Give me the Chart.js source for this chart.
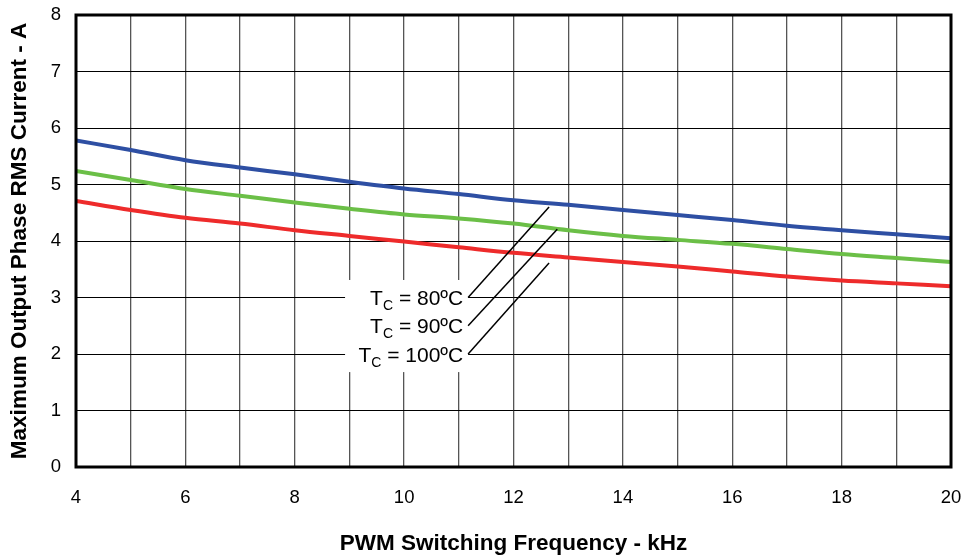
<!DOCTYPE html>
<html>
<head>
<meta charset="utf-8">
<script src="https://cdn.jsdelivr.net/npm/chart.js@4"></script>
<style>
  html, body { margin: 0; padding: 0; background: #fff; }
  #wrap { width: 967px; height: 558px; }
</style>
</head>
<body>
<div id="wrap"><canvas id="chart1"></canvas></div>
<script>
// PWM switching frequency (kHz)
const freqKHz = [4, 5, 6, 7, 8, 9, 10, 11, 12, 13, 14, 15, 16, 17, 18, 19, 20];
// max output phase RMS current (A)
const tc80 = [5.78, 5.61, 5.43, 5.30, 5.18, 5.05, 4.93, 4.83, 4.72, 4.64, 4.55, 4.46, 4.37, 4.27, 4.19, 4.12, 4.05];
const tc90 = [5.24, 5.08, 4.92, 4.80, 4.68, 4.57, 4.47, 4.40, 4.31, 4.19, 4.09, 4.02, 3.95, 3.86, 3.77, 3.70, 3.63];
const tc100 = [4.71, 4.55, 4.41, 4.31, 4.19, 4.09, 3.99, 3.89, 3.79, 3.71, 3.63, 3.55, 3.46, 3.37, 3.30, 3.25, 3.20];
const seriesTemps = ['80ºC', '90ºC', '100ºC'];
const xTickLabels = ['4', '6', '8', '10', '12', '14', '16', '18', '20'];
const yTickLabels = ['0', '1', '2', '3', '4', '5', '6', '7', '8'];

const pts = arr => arr.map((v, i) => ({ x: freqKHz[i], y: v }));

// label text + leader line, in data units
const callouts = [
  { temp: seriesTemps[0], y: 3.0, to: [12.65, 4.60] },
  { temp: seriesTemps[1], y: 2.5, to: [12.80, 4.21] },
  { temp: seriesTemps[2], y: 2.0, to: [12.65, 3.61] }
];

const calloutPlugin = {
  id: 'callouts',
  beforeDatasetsDraw(chart) {
    const { ctx, scales: { x, y } } = chart;
    ctx.save();
    ctx.fillStyle = '#fff';
    const l = x.getPixelForValue(8.92), r = x.getPixelForValue(11.17);
    const t = y.getPixelForValue(3.31), b = y.getPixelForValue(1.68);
    ctx.fillRect(l, t, r - l, b - t);
    ctx.restore();
  },
  afterDatasetsDraw(chart) {
    const { ctx, scales: { x, y }, chartArea: ca } = chart;
    ctx.save();
    // leader lines
    ctx.strokeStyle = '#000';
    ctx.lineWidth = 1.5;
    const x0 = x.getPixelForValue(11.17);
    callouts.forEach(c => {
      ctx.beginPath();
      ctx.moveTo(x0, y.getPixelForValue(c.y));
      ctx.lineTo(x.getPixelForValue(c.to[0]), y.getPixelForValue(c.to[1]));
      ctx.stroke();
    });
    // text
    const right = x.getPixelForValue(11.08);
    const big = '21px "Liberation Sans", Arial, sans-serif';
    const small = '14px "Liberation Sans", Arial, sans-serif';
    ctx.fillStyle = '#000';
    ctx.textBaseline = 'alphabetic';
    ctx.textAlign = 'left';
    callouts.forEach(c => {
      const base = y.getPixelForValue(c.y) + 7.5;
      const rest = ' = ' + c.temp;
      ctx.font = big;
      const wT = ctx.measureText('T').width;
      const wR = ctx.measureText(rest).width;
      ctx.font = small;
      const wC = ctx.measureText('C').width;
      let px = right - (wT + wC + wR);
      ctx.font = big;
      ctx.fillText('T', px, base);
      px += wT;
      ctx.font = small;
      ctx.fillText('C', px, base + 5);
      px += wC;
      ctx.font = big;
      ctx.fillText(rest, px, base);
    });
    // heavy frame
    ctx.lineWidth = 3;
    ctx.strokeRect(ca.left, ca.top, ca.right - ca.left, ca.bottom - ca.top);
    ctx.restore();
  }
};

const tickFont = { family: '"Liberation Sans", Arial, sans-serif', size: 18.5 };
const titleFont = { family: '"Liberation Sans", Arial, sans-serif', size: 22.5, weight: 'bold' };

const ctx1 = document.getElementById('chart1').getContext('2d');
const chart1 = new Chart(ctx1, {
  type: 'line',
  data: {
    datasets: [
      { label: 'TC = ' + seriesTemps[0], data: pts(tc80), borderColor: '#2e4fa3' },
      { label: 'TC = ' + seriesTemps[1], data: pts(tc90), borderColor: '#6bbf47' },
      { label: 'TC = ' + seriesTemps[2], data: pts(tc100), borderColor: '#ee2b2b' }
    ].map(d => Object.assign(d, {
      borderWidth: 4,
      pointRadius: 0,
      fill: false,
      cubicInterpolationMode: 'monotone'
    }))
  },
  options: {
    responsive: true,
    maintainAspectRatio: false,
    animation: false,
    layout: { padding: { top: 15, right: 16, left: 0, bottom: 0 } },
    plugins: { legend: { display: false }, tooltip: { enabled: false } },
    scales: {
      x: {
        type: 'linear',
        min: 4, max: 20,
        afterFit(s) { s.height = 91; s.paddingLeft = 0; s.paddingRight = 0; },
        grid: { color: '#555', lineWidth: 1.3, drawTicks: false },
        border: { display: false },
        ticks: {
          stepSize: 1, autoSkip: false, maxRotation: 0,
          padding: 20, color: '#000', font: tickFont,
          callback: v => xTickLabels.includes(String(v)) ? String(v) : ''
        },
        title: { display: true, text: 'PWM Switching Frequency - kHz', color: '#000', font: titleFont, padding: { top: 8, bottom: 1 } }
      },
      y: {
        min: 0, max: 8,
        afterFit(s) { s.width = 76; s.paddingTop = 0; s.paddingBottom = 0; },
        grid: { color: '#000', lineWidth: 1, drawTicks: false },
        border: { display: false },
        ticks: {
          stepSize: 1, padding: 15, color: '#000', font: tickFont,
          callback: v => yTickLabels[v] ?? ''
        },
        title: { display: true, text: 'Maximum Output Phase RMS Current - A', color: '#000', font: titleFont, padding: { top: 6, bottom: 0 } }
      }
    }
  },
  plugins: [calloutPlugin]
});
</script>
</body>
</html>
